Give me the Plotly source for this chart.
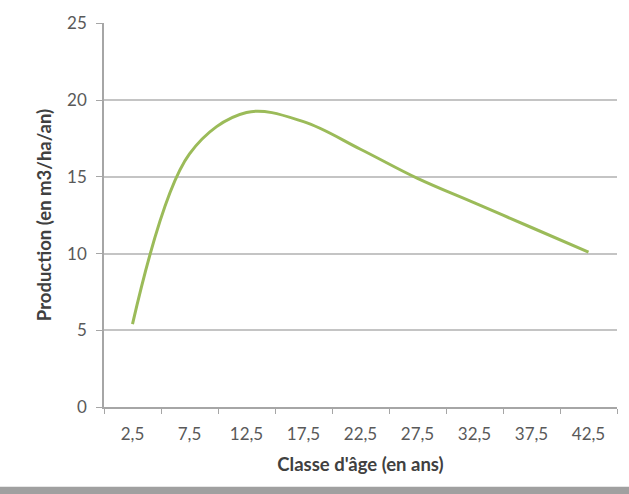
import plotly.graph_objects as go

ages = ["2,5", "7,5", "12,5", "17,5", "22,5", "27,5", "32,5", "37,5", "42,5"]
production = [5.4, 16.5, 19.2, 18.6, 16.8, 14.9, 13.3, 11.7, 10.1]
y_ticks = [0, 5, 10, 15, 20, 25]

FONT = "Lato"
GRID = "#c4c4c4"
TXT = "#595959"

fig = go.Figure()
fig.add_trace(go.Scatter(
    x=ages, y=production, mode="lines",
    line=dict(color="#9bbb59", width=3, shape="spline", smoothing=1.0),
    showlegend=False, hoverinfo="skip",
))

fig.update_layout(
    width=629, height=494,
    margin=dict(l=104, r=12, t=20, b=87),
    paper_bgcolor="white", plot_bgcolor="white",
    font=dict(family=FONT, color=TXT, size=17),
    xaxis=dict(
        type="category", range=[-0.5, 8.5], showgrid=False,
        showline=True, linecolor="#a6a6a6", linewidth=1.5,
        ticks="outside", tickson="boundaries", ticklen=5, tickcolor="#a6a6a6",
        tickfont=dict(size=17, color=TXT, family=FONT),
        ticklabelstandoff=11,
        title=dict(text="<b>Classe d'âge (en ans)</b>", font=dict(size=18.5, color="#404040", family=FONT), standoff=15),
    ),
    yaxis=dict(
        range=[0, 25.03], tickvals=y_ticks,
        showgrid=True, gridcolor=GRID, gridwidth=1.5,
        showline=True, linecolor="#a6a6a6", linewidth=1.5,
        ticks="outside", ticklen=6, tickcolor="#a6a6a6",
        tickfont=dict(size=17, color=TXT, family=FONT),
        ticklabelstandoff=6,
        zeroline=False,
        title=dict(text="<b>Production (en m3/ha/an)</b>", font=dict(size=18.5, color="#404040", family=FONT), standoff=11),
    ),
    shapes=[dict(type="rect", xref="paper", yref="paper", x0=-0.3, x1=1.1,
                 y0=-0.235, y1=-0.208, fillcolor="#a0a0a0", line=dict(width=0), layer="above")],
)

fig.write_html("out.html")
